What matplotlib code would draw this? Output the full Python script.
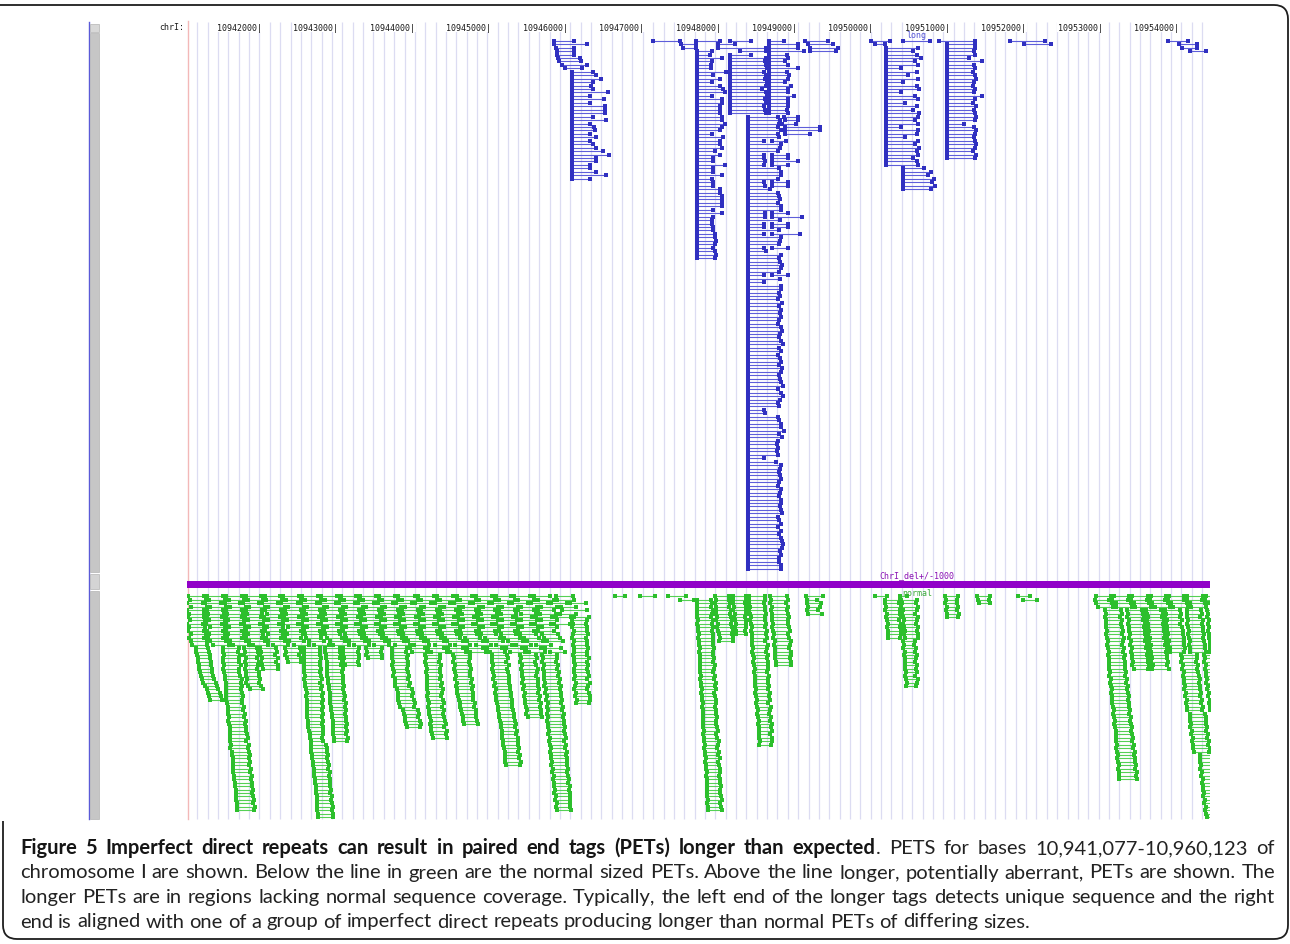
import matplotlib
matplotlib.use("Agg")
import matplotlib.pyplot as plt
from matplotlib.collections import LineCollection
from matplotlib.patches import Rectangle, PathPatch
from matplotlib.path import Path
from matplotlib import font_manager, transforms

# ---------------------------------------------------------------- data
ORIGIN = 10_941_000                      # PET positions are kb offsets from here
VIEW_START, VIEW_END = 10_941_054, 10_954_436
RULER_TICKS = [10942000, 10943000, 10944000, 10945000, 10946000, 10947000,
               10948000, 10949000, 10950000, 10951000, 10952000, 10953000,
               10954000]
CHROM_LABEL = "chrI:"
LONG_TRACK_LABEL = "long"
NORMAL_TRACK_LABEL = "normal"
DIVIDER_LABEL = "ChrI_del+/-1000"
TRACK_LABEL_KB = 9.60                    # where the track names are centred

# long (aberrant) PETs: isolated ones as (row, start_kb, end_kb)
LONG_SINGLES = [
    (0, 4.85, 5.11), (1, 4.85, 5.29), (2, 4.88, 5.12), (3, 4.89, 5.12),
    (4, 4.90, 5.12), (5, 4.91, 5.19), (6, 4.92, 5.21), (7, 4.96, 5.29),
    (8, 5.00, 5.22),
    (0, 6.15, 6.50), (1, 6.52, 6.71), (2, 6.54, 6.71), (0, 6.71, 7.03),
    (0, 7.16, 7.43), (1, 7.00, 7.22), (2, 7.00, 7.63), (3, 7.29, 7.63),
    (4, 7.16, 7.43),
    (0, 7.67, 7.86), (1, 7.67, 8.05), (2, 7.67, 8.05), (3, 7.67, 8.12),
    (22, 7.86, 8.05), (23, 7.87, 8.05), (24, 7.84, 8.02), (25, 7.88, 8.34),
    (26, 7.88, 8.34), (27, 7.87, 8.21),
    (29, 7.70, 7.89), (33, 7.70, 7.92), (34, 7.70, 7.92), (35, 7.70, 8.05),
    (36, 7.70, 7.92), (41, 7.70, 7.92), (42, 7.70, 7.92), (50, 7.70, 7.92),
    (51, 7.70, 8.10), (53, 7.70, 7.92), (54, 7.70, 7.92), (56, 7.70, 8.07),
    (60, 7.70, 7.92), (68, 7.70, 7.92),
    (0, 8.14, 8.44), (1, 8.18, 8.51), (2, 8.20, 8.57), (3, 8.20, 8.55),
    (0, 9.00, 9.25), (1, 9.05, 9.19), (0, 9.42, 9.77), (0, 9.89, 10.36),
    (0, 10.82, 11.28), (1, 11.00, 11.35),
    (0, 12.89, 13.15), (1, 13.03, 13.26), (2, 13.07, 13.26), (3, 13.17, 13.39),
]

# long PETs piled on one left end: (first_row, start_kb, end_kb for each row)
LONG_STACK_A = (9, 5.09, [
    5.36, 5.41, 5.47, 5.36, 5.34, 5.36, 5.56, 5.33, 5.51, 5.33, 5.52, 5.52,
    5.52, 5.36, 5.53, 5.33, 5.38, 5.39, 5.33, 5.40, 5.33, 5.36, 5.41, 5.50,
    5.57, 5.41, 5.40, 5.33, 5.33, 5.40, 5.53, 5.33])
LONG_STACK_B = (3, 6.72, [
    6.92, 6.90, 7.05, 6.92, 6.91, 6.91, 7.11, 6.94, 7.03, 6.92, 7.03, 7.07,
    7.09, 6.92, 7.05, 7.05, 7.03, 7.03, 7.03, 7.05, 7.05, 7.09, 7.05, 7.03,
    6.92, 7.07, 7.03, 7.03, 7.05, 6.96, 7.03, 6.94, 6.94, 7.09, 6.94, 6.94,
    7.05, 6.92, 6.94, 6.94, 7.03, 7.03, 7.05, 7.05, 7.05, 7.05, 6.94, 7.05,
    6.94, 6.92, 6.92, 6.94, 6.94, 6.96, 6.96, 6.98, 6.96, 6.94, 6.96, 6.98,
    6.96])
LONG_STACK_C = (5, 7.16, [
    7.63, 7.61, 7.63, 7.64, 7.60, 7.63, 7.62, 7.64, 7.63, 7.58, 7.63, 7.64,
    7.62, 7.63, 7.60, 7.62, 7.63])
LONG_STACK_E = (4, 7.67, [
    7.90, 7.92, 7.88, 7.92, 8.05, 7.90, 7.93, 7.92, 7.88, 7.95, 7.92, 7.92,
    8.00, 7.92, 7.91, 7.92, 7.90, 7.91])
LONG_STACK_D = (22, 7.39, [
    7.79, 7.81, 7.80, 7.78, 7.82, 7.79, 7.80, 7.60, 7.83, 7.81, 7.78, 7.60,
    7.60, 7.62, 7.60, 7.80, 7.82, 7.83, 7.79, 7.60, 7.61, 7.68, 7.78, 7.80,
    7.81, 7.79, 7.83, 7.82, 7.61, 7.62, 7.81, 7.60, 7.60, 7.80, 7.60, 7.82,
    7.81, 7.80, 7.60, 7.63, 7.83, 7.80, 7.81, 7.84, 7.82, 7.80, 7.60, 7.81,
    7.60, 7.82, 7.83, 7.80, 7.81, 7.79, 7.84, 7.80, 7.82, 7.81, 7.83, 7.80,
    7.78, 7.82, 7.84, 7.81, 7.80, 7.83, 7.85, 7.80, 7.82, 7.79, 7.81, 7.83,
    7.80, 7.84, 7.82, 7.80, 7.81, 7.83, 7.85, 7.79, 7.83, 7.85, 7.81, 7.78,
    7.80, 7.60, 7.61, 7.79, 7.80, 7.82, 7.83, 7.86, 7.80, 7.84, 7.78, 7.77,
    7.78, 7.77, 7.78, 7.60, 7.76, 7.83, 7.81, 7.80, 7.81, 7.82, 7.80, 7.79,
    7.82, 7.81, 7.80, 7.83, 7.82, 7.81, 7.83, 7.84, 7.79, 7.80, 7.83, 7.78,
    7.82, 7.80, 7.83, 7.84, 7.85, 7.84, 7.81, 7.82, 7.80, 7.80, 7.83, 7.82])
LONG_STACK_G = (2, 9.20, [
    9.62, 9.55, 9.60, 9.65, 9.58, 9.62, 9.40, 9.60, 9.48, 9.62, 9.42, 9.60,
    9.63, 9.40, 9.58, 9.62, 9.45, 9.60, 9.55, 9.63, 9.62, 9.58, 9.61, 9.40,
    9.62, 9.60, 9.45, 9.62, 9.58, 9.63, 9.60, 9.62, 9.55, 9.60, 9.62])
LONG_STACK_G2 = (37, 9.42, [9.70, 9.78, 9.75, 9.82, 9.80, 9.84, 9.78])
LONG_STACK_H = (1, 9.99, [
    10.36, 10.36, 10.35, 10.36, 10.28, 10.45, 10.35, 10.36, 10.34, 10.36,
    10.37, 10.35, 10.34, 10.36, 10.35, 10.45, 10.36, 10.34, 10.37, 10.35,
    10.36, 10.38, 10.36, 10.22, 10.35, 10.37, 10.36, 10.35, 10.36, 10.38,
    10.36, 10.34, 10.37, 10.36])
LONG_STACKS = [LONG_STACK_A, LONG_STACK_B, LONG_STACK_C, LONG_STACK_E,
               LONG_STACK_D, LONG_STACK_G, LONG_STACK_G2, LONG_STACK_H]

# normal-sized PETs, fully packed rows: row -> "start-end start-end ..." (kb)
NORMAL_ROWS = {
    0: "0.07-0.27 0.31-0.52 0.56-0.77 0.82-1.02 1.07-1.27 1.31-1.52 1.56-1.77 1.81-2.02 2.07-2.27 2.32-2.52 2.56-2.77 2.82-3.03 3.07-3.28 3.32-3.53 3.58-3.78 3.83-4.04 4.09-4.29 4.33-4.54 4.59-4.80 4.88-5.10 "
       "11.94-12.14 12.18-12.38 12.42-12.62 12.66-12.86 12.90-13.10 13.14-13.34 13.38-13.50",
    1: "0.09-0.30 0.34-0.55 0.60-0.80 0.85-1.05 1.09-1.30 1.35-1.55 1.60-1.81 1.86-2.06 2.11-2.31 2.36-2.57 2.61-2.81 2.86-3.07 3.12-3.32 3.37-3.58 3.62-3.83 3.88-4.08 4.13-4.34 4.38-4.59 4.64-4.85 4.90-5.12 "
       "11.93-12.12 12.16-12.36 12.40-12.61 12.65-12.85 12.89-13.09 13.13-13.33 13.37-13.55",
    2: "0.06-0.26 0.29-0.50 0.55-0.75 0.79-1.00 1.04-1.25 1.29-1.50 1.54-1.75 1.80-2.00 2.04-2.25 2.29-2.50 2.55-2.75 2.79-3.00 3.04-3.25 3.30-3.50 3.55-3.75 3.80-4.01 4.05-4.26 4.31-4.51 4.56-4.77 4.82-5.02 5.06-5.27 "
       "11.95-12.15 12.20-12.40 12.44-12.64 12.68-12.89 12.93-13.13 13.17-13.37 13.41-13.60",
    3: "0.10-0.31 0.36-0.56 0.61-0.82 0.87-1.08 1.12-1.33 1.38-1.58 1.63-1.84 1.89-2.09 2.14-2.35 2.39-2.60 2.65-2.85 2.90-3.11 3.15-3.36 3.41-3.61 3.66-3.87 3.92-4.12 4.17-4.38 4.42-4.63 4.68-4.89 4.94-5.14 "
       "11.97-12.17 12.21-12.42 12.46-12.66 12.71-12.91 12.95-13.15 13.19-13.39",
    4: "0.06-0.27 0.32-0.52 0.57-0.78 0.83-1.03 1.08-1.29 1.33-1.54 1.59-1.80 1.84-2.05 2.10-2.30 2.35-2.56 2.61-2.81 2.86-3.07 3.11-3.32 3.37-3.57 3.62-3.83 3.88-4.08 4.13-4.34 4.39-4.59 4.64-4.85 4.96-5.29",
    5: "0.08-0.28 0.33-0.54 0.58-0.79 0.84-1.04 1.10-1.30 1.35-1.56 1.61-1.81 1.86-2.07 2.12-2.32 2.37-2.58 2.63-2.83 2.88-3.09 3.14-3.34 3.39-3.60 3.65-3.85 3.90-4.11 4.16-4.36 4.42-4.62 4.67-4.88 4.93-5.14",
    6: "0.07-0.28 0.31-0.51 0.56-0.77 0.81-1.02 1.06-1.27 1.32-1.52 1.57-1.78 1.83-2.03 2.08-2.29 2.33-2.54 2.59-2.79 2.84-3.05 3.09-3.30 3.35-3.55 3.60-3.81 3.86-4.06 4.11-4.32 4.36-4.57 4.62-4.83 4.88-5.08 5.11-5.31",
    7: "0.09-0.29 0.34-0.55 0.59-0.80 0.85-1.06 1.11-1.31 1.36-1.57 1.62-1.82 1.87-2.08 2.13-2.33 2.38-2.59 2.64-2.84 2.89-3.10 3.15-3.35 3.40-3.61 3.66-3.86 3.91-4.12 4.17-4.37 4.42-4.63 4.68-4.89",
    8: "0.06-0.26 0.30-0.51 0.56-0.76 0.80-1.01 1.05-1.26 1.31-1.51 1.56-1.77 1.81-2.02 2.07-2.27 2.32-2.53 2.57-2.78 2.83-3.03 3.08-3.29 3.33-3.54 3.59-3.79 3.84-4.05 4.10-4.30 4.35-4.56 4.61-4.81 4.86-5.06",
    9: "0.08-0.29 0.35-0.55 0.60-0.81 0.86-1.06 1.10-1.31 1.37-1.57 1.62-1.83 1.88-2.08 2.13-2.34 2.39-2.59 2.64-2.85 2.90-3.10 3.16-3.36 3.41-3.62 3.67-3.87 3.92-4.13 4.18-4.38 4.44-4.64 4.70-4.90",
    10: "0.07-0.27 0.32-0.52 0.57-0.78 0.83-1.03 1.08-1.28 1.33-1.54 1.58-1.79 1.84-2.04 2.09-2.30 2.35-2.55 2.60-2.81 2.86-3.06 3.11-3.32 3.37-3.57 3.62-3.83 3.88-4.08 4.13-4.34 4.39-4.59 4.64-4.85",
    11: "0.10-0.30 0.34-0.55 0.59-0.80 0.85-1.05 1.11-1.31 1.36-1.57 1.60-1.81 1.86-2.06 2.12-2.32 2.37-2.58 2.62-2.83 2.88-3.08 3.13-3.34 3.39-3.59 3.64-3.85 3.90-4.10 4.16-4.36 4.41-4.62 4.70-4.91",
    12: "0.08-0.28 0.33-0.53 0.58-0.78 0.83-1.04 1.09-1.29 1.34-1.55 1.61-1.81 1.88-2.08 2.14-2.34 2.40-2.60 2.66-2.86 2.92-3.12 3.17-3.38 3.43-3.63 3.69-3.89 3.95-4.15 4.20-4.41 4.46-4.66 4.72-4.93",
    13: "0.11-0.31 0.36-0.56 0.62-0.82 0.87-1.07 1.12-1.33 1.39-1.59 1.65-1.85 1.92-2.12 2.17-2.38 2.43-2.64 2.69-2.89 2.95-3.15 3.21-3.41 3.46-3.67 3.72-3.93 3.98-4.19 4.25-4.45 4.50-4.71 4.76-4.97",
    14: "0.12-0.32 0.40-0.60 0.66-0.86 0.92-1.12 1.18-1.38 1.45-1.65 1.71-1.91 1.97-2.17 2.24-2.44 2.50-2.70 2.77-2.97 3.02-3.22 3.30-3.50 3.56-3.76 3.83-4.03 4.10-4.30 4.36-4.56 4.62-4.82",
    15: "2.97-3.17 3.21-3.42 3.47-3.67 3.72-3.93 3.98-4.18 4.23-4.44 4.49-4.69 4.74-4.95",
    16: "3.00-3.20 3.25-3.45 3.50-3.71 3.76-3.96 4.02-4.22 4.28-4.48 4.53-4.74 4.80-5.00",
}

# normal PETs hanging below the packed rows: (first_row, one "start-end" per row)
NORMAL_STACKS = [
    (15, "0.17-0.33 0.17-0.34 0.19-0.36 0.20-0.36 0.20-0.37 0.21-0.37 0.21-0.38 0.22-0.38 0.24-0.39 0.25-0.41 0.26-0.43 0.29-0.45 0.32-0.46 0.33-0.49 0.34-0.50 0.36-0.51"),
    (15, "0.53-0.74 0.53-0.72 0.54-0.75 0.53-0.73 0.53-0.74 0.54-0.76 0.53-0.73 0.54-0.74 0.55-0.75 0.55-0.77 0.56-0.76 0.56-0.78 0.57-0.76 0.56-0.77 0.57-0.79 0.57-0.77 "
         "0.58-0.78 0.59-0.80 0.59-0.79 0.59-0.81 0.60-0.80 0.59-0.82 0.60-0.81 0.61-0.83 0.62-0.82 0.62-0.84 0.61-0.85 0.62-0.83 0.63-0.86 0.62-0.85 0.64-0.86 0.64-0.88 "
         "0.65-0.86 0.65-0.88 0.66-0.87 0.66-0.89 0.66-0.88 0.67-0.90 0.67-0.89 0.68-0.91 0.68-0.90 0.69-0.92 0.69-0.91 0.70-0.92 0.70-0.93 0.71-0.92 0.71-0.94 0.71-0.93"),
    (15, "0.80-0.97 0.81-0.98 0.80-0.99 0.82-0.97 0.81-1.00 0.82-0.98 0.81-0.97 0.83-1.00 0.82-0.99 0.84-1.01 0.83-1.00 0.85-1.02 0.88-1.05"),
    (15, "1.01-1.22 1.02-1.23 1.01-1.21 1.03-1.24 1.02-1.22 1.04-1.24 1.05-1.25"),
    (15, "1.34-1.53 1.35-1.54 1.34-1.52 1.36-1.55 1.37-1.55"),
    (15, "1.58-1.79 1.58-1.80 1.59-1.79 1.58-1.81 1.59-1.80 1.58-1.79 1.59-1.81 1.59-1.80 1.60-1.81 1.59-1.82 1.60-1.80 1.60-1.82 1.61-1.81 1.62-1.83 1.61-1.82 1.62-1.83 "
         "1.62-1.82 1.63-1.83 1.62-1.82 1.63-1.83 1.63-1.82 1.64-1.83 1.64-1.82 1.64-1.83 1.65-1.83 1.66-1.83 1.66-1.82 1.67-1.83 1.67-1.87 1.68-1.89 1.68-1.88 1.69-1.90 "
         "1.69-1.89 1.70-1.90 1.70-1.91 1.71-1.90 1.72-1.92 1.72-1.91 1.73-1.93 1.73-1.92 1.74-1.93 1.74-1.94 1.74-1.93 1.75-1.95 1.75-1.94 1.76-1.95 1.76-1.96 1.76-1.95 "
         "1.77-1.96 1.77-1.96"),
    (15, "1.86-2.05 1.86-2.06 1.87-2.07 1.87-2.06 1.88-2.08 1.88-2.07 1.88-2.09 1.89-2.08 1.89-2.10 1.90-2.09 1.90-2.10 1.91-2.11 1.91-2.10 1.92-2.11 1.92-2.12 1.93-2.11 "
         "1.93-2.13 1.94-2.12 1.94-2.13 1.95-2.12 1.95-2.14 1.96-2.13 1.96-2.15 1.96-2.14 1.97-2.15 1.97-2.14 1.98-2.16 1.98-2.15"),
    (15, "2.09-2.30 2.10-2.29 2.09-2.31 2.11-2.30 2.10-2.29 2.12-2.31"),
    (15, "2.40-2.60 2.41-2.59 2.40-2.61 2.42-2.60"),
    (15, "2.73-2.93 2.74-2.92 2.73-2.94 2.74-2.93 2.75-2.94 2.74-2.95 2.75-2.93 2.76-2.95 2.75-2.96 2.77-2.95 2.77-2.97 2.78-2.96 2.80-3.00 2.81-3.01 2.82-3.00 2.82-3.02 "
         "2.83-3.03 2.84-3.02 2.88-3.08 2.89-3.09 2.90-3.08 2.91-3.10 2.92-3.11 2.93-3.10"),
    (17, "3.17-3.36 3.18-3.37 3.17-3.35 3.18-3.38 3.19-3.36 3.18-3.37 3.19-3.38 3.19-3.37 3.20-3.39 3.19-3.38 3.20-3.40 3.21-3.39 3.20-3.38 3.21-3.40 3.22-3.41 3.21-3.39 "
         "3.22-3.42 3.22-3.40 3.23-3.41 3.24-3.43 3.23-3.44 3.24-3.42 3.25-3.45 3.26-3.44 3.27-3.46"),
    (17, "3.54-3.75 3.55-3.76 3.54-3.74 3.56-3.76 3.55-3.77 3.56-3.75 3.57-3.76 3.56-3.78 3.58-3.77 3.57-3.79 3.59-3.78 3.58-3.80 3.60-3.79 3.61-3.80 3.62-3.82 3.62-3.81 "
         "3.64-3.83 3.65-3.84 3.66-3.83 3.67-3.85 3.68-3.86"),
    (17, "4.04-4.24 4.05-4.25 4.04-4.23 4.06-4.26 4.05-4.24 4.06-4.25 4.07-4.27 4.06-4.26 4.08-4.27 4.07-4.28 4.09-4.28 4.08-4.29 4.10-4.29 4.09-4.30 4.11-4.31 4.12-4.30 "
         "4.12-4.32 4.13-4.33 4.14-4.33 4.15-4.35 4.16-4.36 4.16-4.35 4.17-4.37 4.18-4.36 4.18-4.38 4.19-4.39 4.19-4.38 4.20-4.40 4.21-4.39 4.21-4.41 4.22-4.40 4.22-4.42 4.23-4.41"),
    (17, "4.41-4.62 4.42-4.63 4.41-4.61 4.43-4.62 4.42-4.64 4.44-4.63 4.43-4.62 4.45-4.64 4.44-4.65 4.46-4.64 4.45-4.66 4.47-4.65 4.46-4.67 4.48-4.66 4.47-4.68 4.49-4.67 "
         "4.50-4.69 4.49-4.68 4.51-4.70"),
    (17, "4.70-4.89 4.71-4.90 4.70-4.88 4.72-4.91 4.71-4.90 4.72-4.92 4.73-4.91 4.72-4.93 4.74-4.92 4.73-4.94 4.75-4.93 4.74-4.95 4.76-4.94 4.75-4.96 4.77-4.95 4.76-4.97 "
         "4.78-4.96 4.76-4.98 4.77-4.97 4.76-4.99 4.78-4.98 4.77-5.00 4.79-4.99 4.78-5.00 4.80-5.01 4.79-4.99 4.80-5.01 4.81-5.00 4.80-5.02 4.82-5.01 4.81-5.03 4.83-5.02 "
         "4.82-5.03 4.84-5.04 4.83-5.02 4.85-5.04 4.84-5.05 4.86-5.04 4.85-5.06 4.87-5.05 4.86-5.06 4.88-5.07 4.87-5.06 4.89-5.07 4.88-5.06 4.89-5.08"),
    (7, "5.09-5.28 5.10-5.27 5.09-5.29 5.11-5.28 5.10-5.30 5.09-5.27 5.11-5.29 5.10-5.28 5.12-5.30 5.11-5.29 5.10-5.28 5.12-5.31 5.11-5.29 5.13-5.30 5.12-5.28 5.11-5.30 "
        "5.13-5.31 5.12-5.29 5.14-5.32 5.13-5.30 5.12-5.29 5.14-5.31 5.13-5.32 5.15-5.33 5.14-5.31"),
    # middle of the window
    (0, "5.65-5.78"),
    (0, "5.98-6.17"),
    (0, "6.35-6.58 6.50-6.68"),
    (1, "6.72-6.91 6.72-6.92 6.73-6.91 6.72-6.93 6.73-6.92 6.73-6.91 6.74-6.93 6.73-6.92 6.74-6.94 6.74-6.92 6.75-6.93 6.74-6.94 6.75-6.93 6.75-6.94 6.76-6.95 6.75-6.93 "
        "6.76-6.94 6.76-6.95 6.77-6.94 6.76-6.96 6.77-6.95 6.77-6.94 6.78-6.96 6.77-6.95 6.78-6.97 6.78-6.96 6.79-6.97 6.78-6.95 6.79-6.96 6.79-6.98 6.80-6.97 6.79-6.96 "
        "6.80-6.98 6.80-6.97 6.81-6.99 6.80-6.98 6.81-6.97 6.81-6.99 6.82-7.00 6.81-6.98 6.82-6.99 6.82-7.01 6.83-7.00 6.82-6.99 6.83-7.01 6.83-7.00 6.84-7.02 6.83-7.00 "
        "6.84-7.01 6.84-7.02 6.85-7.03 6.84-7.01 6.85-7.02 6.85-7.03 6.86-7.04 6.85-7.02 6.86-7.03 6.86-7.04 6.87-7.05 6.86-7.03 6.87-7.04 6.87-7.05"),
    (0, "6.96-7.15 6.97-7.14 6.96-7.16 6.98-7.15 6.97-7.17 6.98-7.16 6.99-7.17 6.98-7.18 7.00-7.17 6.99-7.18 7.00-7.19 7.01-7.18 7.02-7.20 7.01-7.19"),
    (0, "7.19-7.36 7.20-7.37 7.19-7.35 7.21-7.37 7.20-7.36 7.22-7.37 7.21-7.35 7.22-7.36 7.23-7.37 7.22-7.36 7.23-7.35 7.24-7.36"),
    (0, "7.40-7.61 7.41-7.62 7.40-7.60 7.42-7.62 7.41-7.61 7.42-7.63 7.43-7.62 7.42-7.61 7.43-7.63 7.44-7.62 7.43-7.64 7.44-7.63 7.45-7.64 7.44-7.62 7.45-7.65 7.46-7.64 "
        "7.45-7.63 7.46-7.65 7.47-7.64 7.46-7.66 7.47-7.65 7.48-7.66 7.47-7.64 7.48-7.67 7.49-7.66 7.48-7.65 7.49-7.67 7.50-7.66 7.49-7.68 7.50-7.67 7.51-7.68 7.50-7.66 "
        "7.51-7.69 7.52-7.68 7.51-7.67 7.52-7.69 7.53-7.68 7.52-7.70 7.53-7.69 7.54-7.70 7.53-7.68 7.54-7.71 7.55-7.70 7.54-7.69"),
    (0, "7.68-7.90 7.69-7.91 7.68-7.89 7.70-7.92 7.69-7.90 7.71-7.91 7.70-7.93 7.71-7.92 7.72-7.91 7.71-7.93 7.72-7.94 7.73-7.92 7.72-7.93 7.74-7.95 7.73-7.94 7.74-7.93 "
        "7.75-7.95 7.74-7.96 7.75-7.94 7.76-7.95 7.76-7.96"),
    (0, "8.15-8.37 8.16-8.30 8.17-8.35 8.18-8.34 8.17-8.31 8.18-8.36"),
    (0, "9.05-9.21 9.19-9.38 9.19-9.37 9.20-9.39 9.19-9.38 9.21-9.38 9.20-9.39 9.21-9.37 9.22-9.39 9.21-9.38 9.22-9.39 9.23-9.39 9.22-9.38"),
    (0, "9.38-9.47 9.40-9.60 9.41-9.59 9.40-9.61 9.42-9.60 9.41-9.58 9.42-9.61 9.43-9.60 9.42-9.59 9.43-9.61 9.44-9.60 9.43-9.62 9.44-9.61 9.42-9.58 9.43-9.57 9.42-9.59 "
        "9.44-9.58 9.43-9.60 9.44-9.59 9.45-9.58 9.44-9.60 9.45-9.59 9.46-9.60 9.45-9.58 9.46-9.61 9.47-9.60 9.46-9.59"),
    (0, "9.97-10.14 9.98-10.13 9.97-10.12 9.99-10.14 9.98-10.13 9.99-10.15 10.00-10.14"),
    (0, "10.39-10.56 10.40-10.55 10.41-10.56"),
    (0, "10.92-11.08 10.99-11.17"),
    # right-hand block
    (4, "12.06-12.27 12.07-12.28 12.06-12.26 12.08-12.29 12.07-12.27 12.08-12.28 12.09-12.30 12.08-12.29 12.09-12.31 12.10-12.30 12.09-12.29 12.10-12.31 12.11-12.30 12.10-12.32 12.11-12.31 12.12-12.32 "
        "12.11-12.33 12.12-12.33 12.13-12.34 12.12-12.32 12.14-12.35 12.13-12.34 12.14-12.36 12.15-12.35 12.14-12.36 12.15-12.37 12.16-12.36 12.16-12.38 12.17-12.37 12.18-12.39 12.17-12.38 12.18-12.40 "
        "12.19-12.39 12.18-12.40 12.19-12.41 12.20-12.40 12.20-12.42 12.21-12.43 12.20-12.42 12.22-12.44 12.21-12.43 12.22-12.45 12.23-12.44 12.22-12.46 12.23-12.46 12.24-12.47 12.23-12.45 12.25-12.48 "
        "12.24-12.47 12.25-12.48"),
    (4, "12.35-12.55 12.36-12.56 12.35-12.57 12.37-12.56 12.36-12.58 12.38-12.57 12.37-12.59 12.39-12.58 12.38-12.60 12.40-12.59 12.39-12.61 12.41-12.60 12.40-12.62 12.42-12.61 12.41-12.63 12.43-12.62 "
        "12.42-12.64 12.44-12.63"),
    (4, "12.60-12.80 12.61-12.82 12.62-12.81 12.61-12.83 12.63-12.82 12.62-12.84 12.64-12.83 12.63-12.85 12.65-12.84 12.64-12.86 12.66-12.85 12.65-12.87 12.67-12.86 12.66-12.88 12.68-12.87 12.67-12.89 "
        "12.69-12.88 12.68-12.90"),
    (4, "12.85-13.05 12.86-13.06 12.85-13.04 12.87-13.07 12.86-13.05 12.88-13.07 12.87-13.08 12.89-13.08 12.88-13.09 12.90-13.09 12.89-13.10 12.91-13.11 12.91-13.10"),
    (4, "13.13-13.32 13.14-13.33 13.13-13.31 13.15-13.34 13.14-13.33 13.15-13.35 13.16-13.34 13.15-13.36 13.16-13.35 13.17-13.36 13.16-13.37 13.18-13.37 13.17-13.38 "
        "13.06-13.26 13.07-13.27 13.06-13.25 13.08-13.28 13.07-13.27 13.09-13.28 13.08-13.29 13.10-13.30 13.09-13.29 13.11-13.31 13.10-13.30 13.12-13.32 13.11-13.31 13.13-13.33 13.12-13.32 13.14-13.34 13.14-13.33 "
        "13.17-13.37 13.18-13.38 13.17-13.39 13.19-13.38 13.18-13.40 13.20-13.39 13.19-13.41 13.21-13.40 13.20-13.42 13.22-13.41 13.22-13.43 13.23-13.42"),
    (4, "13.40-13.60 13.41-13.61 13.40-13.59 13.42-13.62 13.41-13.60 13.42-13.62 13.41-13.61 13.42-13.63 13.42-13.61 13.43-13.63 13.43-13.62 13.44-13.64 13.44-13.63 "
        "13.36-13.56 13.37-13.57 13.36-13.55 13.38-13.58 13.37-13.57 13.39-13.58 13.38-13.59 13.40-13.60 13.39-13.59 13.41-13.61 13.40-13.60 13.42-13.62 13.41-13.61 13.43-13.63 13.42-13.62 13.44-13.64 13.44-13.63"),
    (46, "13.30-13.50 13.31-13.52 13.30-13.51 13.32-13.52 13.31-13.53 13.33-13.52 13.32-13.54 13.34-13.53 13.33-13.55 13.35-13.54 13.34-13.56 13.36-13.55 13.35-13.57 13.37-13.56 13.36-13.58 13.38-13.57 "
         "13.37-13.59 13.38-13.58 13.40-13.60"),
]

CAPTION = [
    [("Figure 5 Imperfect direct repeats can result in paired end tags (PETs) longer than expected", True),
     (". PETS for bases 10,941,077-10,960,123 of", False)],
    [("chromosome I are shown. Below the line in green are the normal sized PETs. Above the line longer, potentially aberrant, PETs are shown. The", False)],
    [("longer PETs are in regions lacking normal sequence coverage. Typically, the left end of the longer tags detects unique sequence and the right", False)],
    [("end is aligned with one of a group of imperfect direct repeats producing longer than normal PETs of differing sizes.", False)],
]

# ---------------------------------------------------------------- layout / style
W, H = 1290, 945
PANEL_X0, PANEL_X1 = 187, 1210
PANEL_Y0, PANEL_Y1 = 20, 820
ROW_PITCH = 3.45
LONG_TOP = 41.7
NORMAL_TOP = 597.3
LONG_LINE, LONG_END = "#5e5eda", "#3030c0"
NORMAL_LINE, NORMAL_END = "#55d055", "#2cbf2c"
END_SIZE = 6.5                            # marker area of a tag end, pt^2
GUIDE = "#dcdcf2"
MONO = "DejaVu Sans Mono"


def parse_pairs(text):
    out = []
    for tok in text.split():
        a, b = tok.split("-")
        out.append((float(a), float(b)))
    return out


def expand_long():
    pets = list(LONG_SINGLES)
    for first, start, ends in LONG_STACKS:
        for i, e in enumerate(ends):
            pets.append((first + i, start, e))
    return pets


def expand_normal():
    pets = []
    for row, text in NORMAL_ROWS.items():
        for s, e in parse_pairs(text):
            pets.append((row, s, e))
    for first, text in NORMAL_STACKS:
        for i, (s, e) in enumerate(parse_pairs(text)):
            pets.append((first + i, s, e))
    return pets


fig = plt.figure(figsize=(W / 100, H / 100), dpi=100)
fig.patch.set_facecolor("white")

# full-figure canvas in pixel units for frame, side bar, guides and caption
cv = fig.add_axes([0, 0, 1, 1])
cv.set_xlim(0, W)
cv.set_ylim(H, 0)
cv.axis("off")

# open frame: top edge runs off the left side, left edge only beside the caption
frame = Path([(0, 6), (1274, 6), (1288, 6), (1288, 20), (1288, 926), (1288, 940),
              (1274, 940), (17, 940), (3, 940), (3, 926), (3, 822)],
             [Path.MOVETO, Path.LINETO, Path.CURVE3, Path.CURVE3, Path.LINETO,
              Path.CURVE3, Path.CURVE3, Path.LINETO, Path.CURVE3, Path.CURVE3,
              Path.LINETO])
cv.add_patch(PathPatch(frame, fill=False, ec="#1e1e1e", lw=1.3, zorder=1))

# browser side bar
cv.plot([88.5, 88.5], [23, PANEL_Y1], color="#5a5ad8", lw=1.0, zorder=2)
for y0, y1, fc in [(24.5, 33, "#d8d8d8"), (34, 573, "#c6c6c6"),
                   (575, 589.5, "#d4d4d4"), (591.5, PANEL_Y1, "#c6c6c6")]:
    cv.add_patch(Rectangle((89.5, y0), 9, y1 - y0, fc=fc, ec="#b4b4b4", lw=0.5, zorder=2))

# vertical guide lines across the whole browser panel
gx = 197.3
guides = []
while gx < PANEL_X1:
    guides.append(gx)
    gx += 10.36
cv.vlines(guides, 23, PANEL_Y1, colors=GUIDE, lw=0.9, zorder=1)
cv.plot([188.3, 188.3], [22, PANEL_Y1], color="#f3b8b8", lw=1.0, zorder=2)
cv.text(184, 28, CHROM_LABEL, ha="right", va="center", fontsize=6.0,
        family=MONO, color="#1a1a1a", zorder=3)

# track panel: x in bases, y in pixel rows
ax = fig.add_axes([PANEL_X0 / W, 1 - PANEL_Y1 / H, (PANEL_X1 - PANEL_X0) / W,
                   (PANEL_Y1 - PANEL_Y0) / H])
ax.set_xlim(VIEW_START, VIEW_END)
ax.set_ylim(PANEL_Y1, PANEL_Y0)
ax.axis("off")
ax.patch.set_alpha(0)

tick_tf = transforms.offset_copy(ax.transData, fig=fig, x=2.6, y=0, units="dots")
for t in RULER_TICKS:
    ax.text(t, 28, f"{t}|", transform=tick_tf, ha="right", va="center",
            fontsize=6.0, family=MONO, color="#1a1a1a", zorder=4,
            bbox=dict(fc="white", ec="none", pad=0.6))


def draw_pets(pets, top, line_color, end_color):
    segs, xs, ys = [], [], []
    for row, s, e in pets:
        y = top + ROW_PITCH * row
        a, b = ORIGIN + 1000 * s, ORIGIN + 1000 * e
        segs.append([(a, y), (b, y)])
        xs += [a, b]
        ys += [y, y]
    ax.add_collection(LineCollection(segs, colors=line_color, linewidths=0.8, zorder=3))
    ax.scatter(xs, ys, marker="s", s=END_SIZE, c=end_color, linewidths=0, zorder=4)


draw_pets(expand_long(), LONG_TOP, LONG_LINE, LONG_END)
draw_pets(expand_normal(), NORMAL_TOP, NORMAL_LINE, NORMAL_END)

# divider between the two tracks and the track labels
ax.add_patch(Rectangle((VIEW_START, 581.5), VIEW_END - VIEW_START, 7.3,
                       fc="#9100c8", ec="none", zorder=5))
label_x = ORIGIN + 1000 * TRACK_LABEL_KB
ax.text(label_x, 578.3, DIVIDER_LABEL, ha="center", va="baseline", fontsize=6.0,
        family=MONO, color="#8a10b4", zorder=6)
ax.text(label_x, 593.3, NORMAL_TRACK_LABEL, ha="center", va="center",
        fontsize=6.0, family=MONO, color="#3aaa3a", zorder=6)
ax.text(label_x, 35.5, LONG_TRACK_LABEL, ha="center", va="center",
        fontsize=6.0, family=MONO, color="#5656d6", zorder=6)

# ---------------------------------------------------------------- caption
names = {f.name for f in font_manager.fontManager.ttflist}
CAP_FONT = next(n for n in ["Lato", "Roboto", "Open Sans", "Noto Sans", "DejaVu Sans"]
                if n in names)
renderer = fig.canvas.get_renderer()


def text_width(s, size, bold):
    t = cv.text(0, 0, s, fontsize=size, family=CAP_FONT,
                fontweight="bold" if bold else "normal")
    w = t.get_window_extent(renderer).width
    t.remove()
    return w


def split_words(runs):
    words = [[]]
    for text, bold in runs:
        parts = text.split(" ")
        for i, p in enumerate(parts):
            if i > 0:
                words.append([])
            if p:
                words[-1].append((p, bold))
    return [w for w in words if w]


CAP_X0, CAP_X1 = 20, 1275
LAST_LINE_END = 1030
BASELINES = [854, 878.5, 903, 927.5]

lines = [split_words(r) for r in CAPTION]
base = 12.0
space0 = text_width("a a", base, False) - text_width("aa", base, False)
nat = []
for ws in lines:
    total = sum(text_width(p, base, b) for w in ws for p, b in w)
    nat.append(total + space0 * (len(ws) - 1))
size = base * (LAST_LINE_END - CAP_X0) / nat[-1]
limit = min((CAP_X1 - CAP_X0) / n for n in nat[:-1])
size = min(size, base * limit * 0.995)

space = text_width("a a", size, False) - text_width("aa", size, False)
for li, ws in enumerate(lines):
    widths = [[text_width(p, size, b) for p, b in w] for w in ws]
    word_w = [sum(w) for w in widths]
    if li < len(lines) - 1:
        gap = (CAP_X1 - CAP_X0 - sum(word_w)) / (len(ws) - 1)
    else:
        gap = space
    x = CAP_X0
    for w, pw in zip(ws, widths):
        for (p, b), pwid in zip(w, pw):
            cv.text(x, BASELINES[li], p, fontsize=size, family=CAP_FONT,
                    fontweight="bold" if b else "normal",
                    color="#151515" if b else "#222222", va="baseline", ha="left")
            x += pwid
        x += gap

fig.savefig("out.png", dpi=100, facecolor="white")
